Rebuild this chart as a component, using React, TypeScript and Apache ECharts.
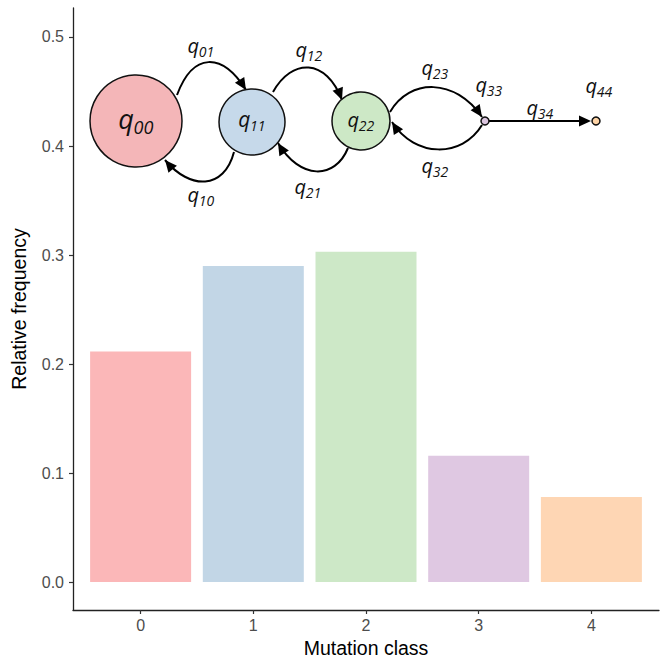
import React, { useEffect, useRef } from "react";
import * as echarts from "echarts";

const classes = [0, 1, 2, 3, 4];
const frequency = [0.2115, 0.29, 0.303, 0.116, 0.078];
const barColors = ["#FBB7B8", "#C2D6E6", "#CDE8C7", "#DFC8E2", "#FED6B4"];
const yTicks = [0, 0.1, 0.2, 0.3, 0.4, 0.5];
const xTicks = [0, 1, 2, 3, 4];

function arrowHead(tx: number, ty: number, dx: number, dy: number) {
  const len = Math.hypot(dx, dy);
  const ux = dx / len, uy = dy / len;
  const L = 12, W = 5.5;
  const bx = tx - ux * L, by = ty - uy * L;
  return {
    type: "polygon",
    shape: { points: [[tx, ty], [bx - uy * W, by + ux * W], [bx + uy * W, by - ux * W]] },
    style: { fill: "#000" },
    z: 10,
  };
}

function curve(x1: number, y1: number, c1x: number, c1y: number, c2x: number, c2y: number, x2: number, y2: number) {
  return [
    {
      type: "bezierCurve",
      shape: { x1, y1, cpx1: c1x, cpy1: c1y, cpx2: c2x, cpy2: c2y, x2, y2 },
      style: { stroke: "#000", lineWidth: 2, fill: null },
      z: 9,
    },
    arrowHead(x2, y2, x2 - c2x, y2 - c2y),
  ];
}

function qLabel(cx: number, cy: number, sub: string, qs: number, ss: number) {
  const total = 0.56 * qs + 0.56 * ss * sub.length;
  const left = cx - total / 2;
  const font = "'Open Sans', 'DejaVu Sans', sans-serif";
  return [
    {
      type: "text",
      x: left,
      y: cy - qs * 0.12,
      style: { text: "q", fontSize: qs, fontStyle: "italic", fontFamily: font, fill: "#111", textAlign: "left", textVerticalAlign: "middle" },
      z: 12,
    },
    {
      type: "text",
      x: left + 0.56 * qs,
      y: cy + qs * 0.18,
      style: { text: sub, fontSize: ss, fontStyle: "italic", fontFamily: font, fill: "#111", textAlign: "left", textVerticalAlign: "middle" },
      z: 12,
    },
  ];
}

function node(cx: number, cy: number, r: number, fill: string) {
  return { type: "circle", shape: { cx, cy, r }, style: { fill, stroke: "#111", lineWidth: 1.5 }, z: 11 };
}

export default function App() {
  const ref = useRef<HTMLDivElement>(null);
  useEffect(() => {
    if (!ref.current) return;
    const chart = echarts.init(ref.current, null, { renderer: "svg" });
    const graphics: any[] = [
      ...curve(177, 95, 193, 52, 222, 52, 246, 90),
      ...curve(273, 92, 292, 58, 326, 58, 342, 100),
      ...curve(234, 152, 224, 190, 190, 190, 165, 160),
      ...curve(348, 148, 335, 180, 300, 180, 278, 143),
      ...curve(390, 112, 410, 78, 455, 78, 482, 117),
      ...curve(482, 125, 462, 158, 415, 158, 392, 122),
      { type: "line", shape: { x1: 489, y1: 121, x2: 585, y2: 121 }, style: { stroke: "#000", lineWidth: 2 }, z: 9 },
      arrowHead(591, 121, 1, 0),
      node(136, 121, 46, "#F4B6B8"),
      node(252, 122, 33, "#C6D9EA"),
      node(361, 121, 29, "#CDE8C6"),
      node(485, 121, 4, "#DCC6E0"),
      node(596, 121, 4, "#FDD3A5"),
      ...qLabel(136, 122, "00", 27, 18),
      ...qLabel(252, 122, "11", 21, 14),
      ...qLabel(361, 122, "22", 20, 14),
      ...qLabel(201, 48, "01", 20, 14),
      ...qLabel(309, 52, "12", 20, 14),
      ...qLabel(201, 197, "10", 20, 14),
      ...qLabel(308, 189, "21", 20, 14),
      ...qLabel(435, 70, "23", 20, 14),
      ...qLabel(489, 87, "33", 20, 14),
      ...qLabel(540, 110, "34", 20, 14),
      ...qLabel(599, 88, "44", 20, 14),
      ...qLabel(435, 168, "32", 20, 14),
    ];
    chart.setOption({
      animation: false,
      grid: { left: 73, right: 9, top: 8, bottom: 52, containLabel: false },
      xAxis: {
        type: "value",
        min: -0.6,
        max: 4.6,
        name: "Mutation class",
        nameLocation: "middle",
        nameGap: 28,
        nameTextStyle: { fontSize: 19.5, color: "#000", fontFamily: "'Liberation Sans', Arial, sans-serif" },
        splitLine: { show: false },
        axisLine: { show: true, onZero: false, lineStyle: { color: "#222", width: 1.3 } },
        axisTick: { show: true, customValues: xTicks, length: 4, lineStyle: { color: "#333", width: 1.2 } },
        axisLabel: {
          customValues: xTicks,
          margin: 7,
          fontSize: 16,
          color: "#4D4D4D",
          fontFamily: "'Liberation Sans', Arial, sans-serif",
          formatter: (v: number) => String(Math.round(v)),
        },
      },
      yAxis: {
        type: "value",
        min: -0.0256,
        max: 0.5266,
        name: "Relative frequency",
        nameLocation: "middle",
        nameGap: 44,
        nameTextStyle: { fontSize: 19.5, color: "#000", fontFamily: "'Liberation Sans', Arial, sans-serif" },
        splitLine: { show: false },
        axisLine: { show: true, onZero: false, lineStyle: { color: "#222", width: 1.3 } },
        axisTick: { show: true, customValues: yTicks, length: 4, lineStyle: { color: "#333", width: 1.2 } },
        axisLabel: {
          customValues: yTicks,
          margin: 9,
          fontSize: 16,
          color: "#4D4D4D",
          fontFamily: "'Liberation Sans', Arial, sans-serif",
          formatter: (v: number) => v.toFixed(1),
        },
      },
      series: [
        {
          type: "bar",
          barWidth: 101,
          data: classes.map((c, i) => ({ value: [c, frequency[i]], itemStyle: { color: barColors[i] } })),
        },
      ],
      graphic: graphics,
    });
    return () => chart.dispose();
  }, []);
  return <div ref={ref} style={{ position: "absolute", left: 0, top: 0, width: 668, height: 663 }} />;
}
